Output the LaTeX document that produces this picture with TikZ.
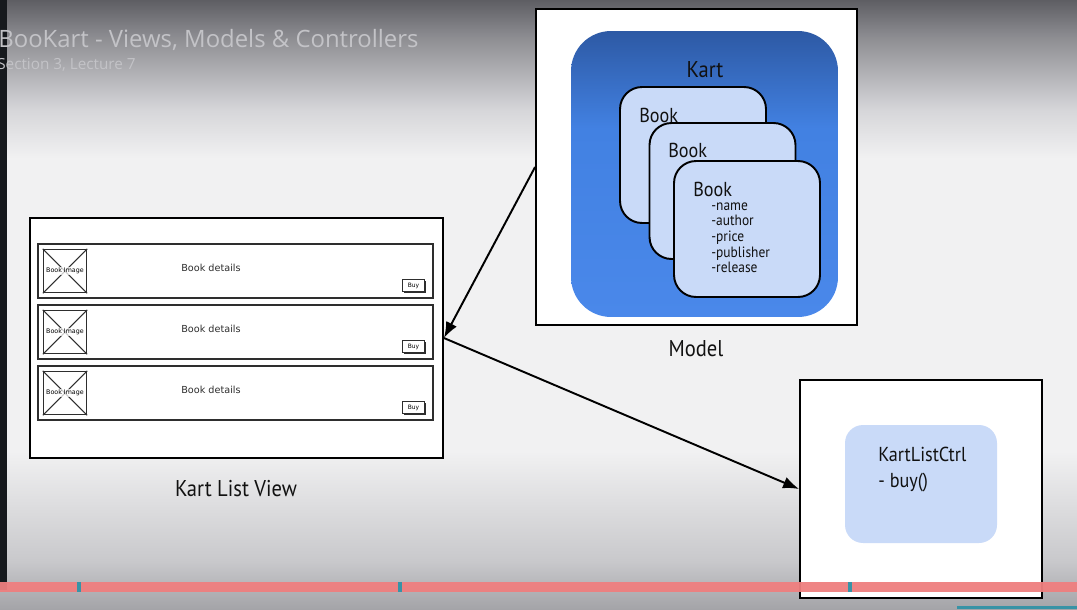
\documentclass[tikz,border=0pt]{standalone}
\usepackage{fontspec}
\setmainfont{PT Sans}
\newfontfamily\titlefont{Open Sans}
\newfontfamily\narrowfont[FakeStretch=0.9]{PT Sans}
\newfontfamily\wirefont{DejaVu Sans}
\usetikzlibrary{arrows.meta,positioning,calc,shadows}
\definecolor{bgtop}{HTML}{5E5E63}
\definecolor{bgupper}{HTML}{8C8C91}
\definecolor{bglight}{HTML}{D6D6D9}
\definecolor{bgwhite}{HTML}{F1F1F2}
\definecolor{bglow}{HTML}{C9C9CC}
\definecolor{bgbottom}{HTML}{A4A4A8}
\definecolor{kartdark}{HTML}{2D59A4}
\definecolor{kartmid}{HTML}{4281E2}
\definecolor{kartlight}{HTML}{4A88EA}
\definecolor{bookblue}{HTML}{C9DAF8}
\definecolor{titlegrey}{HTML}{C3C3C7}
\definecolor{barred}{HTML}{EF7F7F}
\definecolor{barteal}{HTML}{3893A6}
\definecolor{stripdark}{HTML}{16191D}
\definecolor{wiregrey}{HTML}{2E2E2E}
\definecolor{labelink}{HTML}{111111}
\pgfdeclareverticalshading{screenbg}{100bp}{color(0bp)=(bgbottom); color(25bp)=(bgbottom); color(29bp)=(bglow); color(38bp)=(bgwhite); color(62bp)=(bgwhite); color(66bp)=(bglight); color(72bp)=(bgupper); color(75bp)=(bgtop); color(100bp)=(bgtop)}
\pgfdeclareverticalshading{kartshade}{100bp}{color(0bp)=(kartlight); color(25bp)=(kartlight); color(58bp)=(kartmid); color(75bp)=(kartdark); color(100bp)=(kartdark)}
\tikzset{
 frame/.style={draw=black,line width=1.1pt,fill=white,inner sep=0pt},
 kartbox/.style={shade,shading=kartshade,rounded corners=0.8cm,inner sep=0pt,
             minimum width=5.34cm,minimum height=5.72cm},
 bookcard/.style={draw=black,line width=1.1pt,fill=bookblue,rounded corners=0.44cm,
             inner sep=0pt,minimum width=2.92cm,minimum height=2.72cm},
 ctrlbox/.style={fill=bookblue,rounded corners=0.36cm,inner sep=0pt,
             minimum width=3.04cm,minimum height=2.36cm},
 titletext/.style={text=titlegrey,inner sep=0pt,font=\titlefont\fontsize{13.6}{16}\selectfont},
 subtitletext/.style={text=titlegrey,inner sep=0pt,font=\titlefont\fontsize{8.7}{10}\selectfont},
 cardtitle/.style={text=labelink,inner sep=0pt,font=\narrowfont\fontsize{11.5}{13}\selectfont},
 attrtext/.style={text=labelink,inner sep=0pt,font=\narrowfont\fontsize{8.5}{9}\selectfont},
 caption/.style={text=labelink,inner sep=0pt,font=\narrowfont\fontsize{13}{15}\selectfont},
 wirerow/.style={draw=wiregrey,line width=0.8pt,fill=white,inner sep=0pt,
             minimum width=7.9cm,minimum height=1.08cm},
 wireimg/.style={draw=wiregrey,line width=0.8pt,inner sep=0pt,minimum size=0.86cm},
 wireline/.style={draw=wiregrey,line width=0.6pt},
 imglabel/.style={fill=white,fill opacity=0.75,text opacity=1,inner sep=0.4pt,
             font=\wirefont\fontsize{3.6}{4}\selectfont},
 wiretext/.style={text=wiregrey,inner sep=0pt,font=\wirefont\fontsize{5.5}{6}\selectfont},
 buybtn/.style={draw=wiregrey,line width=0.5pt,fill=white,inner sep=0pt,
             minimum width=0.44cm,minimum height=0.24cm,font=\wirefont\fontsize{3.4}{4}\selectfont,
             drop shadow={shadow xshift=0.35mm,shadow yshift=-0.35mm,fill=wiregrey,opacity=1}},
 arrow/.style={-{Latex[length=3.2mm,width=2.4mm]},line width=1.1pt}
}

\begin{document}
\begin{tikzpicture}[x=0.02cm,y=-0.02cm]
\useasboundingbox (0,0) rectangle (1077,609);
\shade[shading=screenbg] (0,0) rectangle (1077,609);
\fill[stripdark] (0,0) rectangle (7,590);
\node[titletext,anchor=base west] (title) at (-2,47) {BooKart - Views, Models \& Controllers};
\node[subtitletext,anchor=base west] (subtitle) at (-3,69) {Section 3, Lecture 7};

% model
\node[frame,minimum width=6.42cm,minimum height=6.32cm] (model) at (696.5,167) {};
\node[kartbox] (kart) at (704.5,174) {};
\node[cardtitle,font=\narrowfont\fontsize{13}{15}\selectfont,anchor=base] (karttitle) at (705,77) {Kart};
\node[bookcard] (book1) at (693,155) {};
\node[cardtitle,anchor=base west] (booktitle1) at (639,122) {Book};
\node[bookcard] (book2) at (722.5,191) {};
\node[cardtitle,anchor=base west] (booktitle2) at (668,157) {Book};
\node[bookcard] (book3) at (747,229) {};
\node[cardtitle,anchor=base west] (booktitle3) at (693,196) {Book};
\foreach \a [count=\k] in {name,author,price,publisher,release}
  \node[attrtext,anchor=base west] (attr\k) at (711,{194.3+15.7*\k}) {-\a};
\node[caption,anchor=base] (modelcap) at (696,356) {Model};

% view
\node[frame,minimum width=8.26cm,minimum height=4.8cm] (kartview) at (236.5,338) {};
\foreach \r/\y in {1/271,2/332,3/393}{
  \node[wirerow] (row\r) at (235.5,\y) {};
  \node[wireimg] (img\r) at (65,\y) {};
  \draw[wireline] (img\r.north west) -- (img\r.south east) (img\r.north east) -- (img\r.south west);
  \node[imglabel] (imglabel\r) at (img\r) {Book Image};
  \node[wiretext,anchor=base] (details\r) at (211,\y) {Book details};
  \node[buybtn] (buy\r) at (413.5,{\y+14.5}) {Buy};
}
\node[caption,anchor=base] (viewcap) at (236,496) {Kart List View};

% controller
\node[frame,minimum width=4.84cm,minimum height=4.36cm] (ctrl) at (921,489) {};
\node[ctrlbox] (ctrlinner) at (921,484) {};
\node[cardtitle,anchor=base west] (ctrlname) at (878,461) {KartListCtrl};
\node[cardtitle,anchor=base west] (ctrlbuy) at (878,487) {- buy()};

\draw[arrow] (model.west) -- (kartview.east);
\draw[arrow] (kartview.east) -- (ctrl.west);

% player bar
\fill[barred,opacity=0.95] (0,582) rectangle (1077,592);
\foreach \x in {77,398,848}
  \fill[barteal] (\x,582) rectangle ({\x+4},592);
\fill[barteal] (957,606) rectangle (1077,609);
\end{tikzpicture}
\end{document}
